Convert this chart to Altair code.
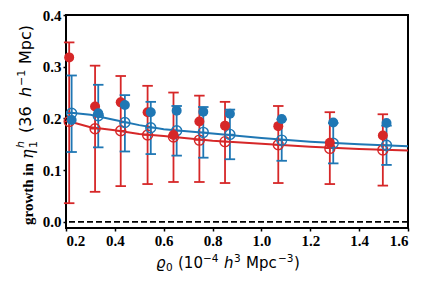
import altair as alt
import pandas as pd

# ---- data ----
red_x = [0.213, 0.319, 0.424, 0.534, 0.640, 0.746, 0.851, 1.069, 1.280, 1.497]
blue_x = [0.223, 0.332, 0.441, 0.547, 0.653, 0.762, 0.871, 1.083, 1.294, 1.512]

red_filled = [0.318, 0.223, 0.231, 0.212, 0.168, 0.194, 0.186, 0.185, 0.153, 0.167]
blue_filled = [0.197, 0.210, 0.226, 0.212, 0.215, 0.213, 0.209, 0.199, 0.192, 0.191]

red_open = [0.194, 0.180, 0.176, 0.168, 0.164, 0.158, 0.155, 0.149, 0.142, 0.139]
blue_open = [0.210, 0.205, 0.192, 0.182, 0.176, 0.173, 0.169, 0.158, 0.152, 0.148]

red_lo = [0.036, 0.058, 0.069, 0.073, 0.077, 0.077, 0.075, 0.075, 0.073, 0.070]
red_hi = [0.347, 0.302, 0.282, 0.263, 0.250, 0.244, 0.232, 0.224, 0.212, 0.208]
blue_lo = [0.135, 0.144, 0.136, 0.131, 0.128, 0.124, 0.121, 0.118, 0.113, 0.110]
blue_hi = [0.283, 0.265, 0.245, 0.232, 0.224, 0.222, 0.217, 0.198, 0.191, 0.186]

line_x = [0.2, 0.3, 0.4, 0.5, 0.6, 0.8, 1.0, 1.2, 1.4, 1.6]
blue_line = [0.212, 0.207, 0.197, 0.187, 0.179, 0.171, 0.162, 0.155, 0.150, 0.146]
red_line = [0.196, 0.183, 0.177, 0.170, 0.166, 0.157, 0.151, 0.145, 0.141, 0.138]

x_ticks = [0.2, 0.4, 0.6, 0.8, 1.0, 1.2, 1.4, 1.6]
y_ticks = [0.0, 0.1, 0.2, 0.3, 0.4]

BLUE = "#1f77b4"
RED = "#d62728"

pts = pd.DataFrame({
    "x": red_x + blue_x,
    "filled": red_filled + blue_filled,
    "open": red_open + blue_open,
    "lo": red_lo + blue_lo,
    "hi": red_hi + blue_hi,
    "s": ["red"] * len(red_x) + ["blue"] * len(blue_x),
})
lines = pd.DataFrame({
    "x": line_x + line_x,
    "y": red_line + blue_line,
    "s": ["red"] * len(line_x) + ["blue"] * len(line_x),
})

xs = alt.Scale(domain=[0.2, 1.6], nice=False, zero=False)
ys = alt.Scale(domain=[-0.012, 0.4], nice=False, zero=False)
col = alt.Color("s:N", scale=alt.Scale(domain=["red", "blue"], range=[RED, BLUE]), legend=None)

xax = alt.Axis(values=x_ticks, format=".1f", title=None)
yax = alt.Axis(values=y_ticks, format=".1f", title=None)

base_x = alt.X("x:Q", scale=xs, axis=xax)

zero = alt.Chart(pd.DataFrame({"z": [0.0]})).mark_rule(
    color="black", strokeDash=[6, 3], strokeWidth=1.8
).encode(y=alt.Y("z:Q", scale=ys, axis=yax))

line_layer = alt.Chart(lines).mark_line(strokeWidth=2).encode(
    x=base_x, y=alt.Y("y:Q", scale=ys, axis=yax), color=col, detail="s:N"
)

def series(name):
    d = pts[pts.s == name]
    c = alt.Chart(d)
    err = c.mark_rule(strokeWidth=1.8).encode(
        x=base_x, y=alt.Y("lo:Q", scale=ys, axis=yax), y2="hi:Q", color=col)
    cap_lo = c.mark_point(shape="stroke", size=110, strokeWidth=1.8, opacity=1).encode(
        x=base_x, y=alt.Y("lo:Q", scale=ys, axis=yax), color=col)
    cap_hi = c.mark_point(shape="stroke", size=110, strokeWidth=1.8, opacity=1).encode(
        x=base_x, y=alt.Y("hi:Q", scale=ys, axis=yax), color=col)
    return err, cap_lo, cap_hi

def opens(name):
    d = pts[pts.s == name]
    return alt.Chart(d).mark_point(
        shape="M-1,0A1,1,0,1,1,1,0A1,1,0,1,1,-1,0Z M-1,0L1,0 M0,-1L0,1",
        size=100, filled=False, strokeWidth=1.4, opacity=1
    ).encode(x=base_x, y=alt.Y("open:Q", scale=ys, axis=yax), color=col)

def fills(name):
    d = pts[pts.s == name]
    return alt.Chart(d).mark_point(
        shape="circle", size=100, filled=True, opacity=1
    ).encode(x=base_x, y=alt.Y("filled:Q", scale=ys, axis=yax), color=col)

r_err = series("red")
b_err = series("blue")

one = pd.DataFrame({"a": [0]})

def txt(text, x, y, font, size, weight="normal", style="normal", angle=270, align="left", baseline="alphabetic"):
    return alt.Chart(one).mark_text(
        text=text, font=font, fontSize=size, fontWeight=weight, fontStyle=style,
        angle=angle, align=align, baseline=baseline, color="black"
    ).encode(x=alt.value(x), y=alt.value(y))

SANS = "DejaVu Sans"
ytitle = [
    txt("growth in", -33, 210, "Liberation Serif", 15, weight="bold"),
    txt("η", -33, 144, "DejaVu Serif", 16, style="italic"),
    txt("h", -42, 133, SANS, 11, style="italic"),
    txt("1", -29, 133, SANS, 11),
    txt("(36", -35, 118, SANS, 16),
    txt("h", -35, 82, SANS, 16, style="italic"),
    txt("−1", -41, 71, SANS, 11),
    txt("Mpc)", -35, 49, SANS, 16),
]
xb = 253
xtitle = [
    txt("ϱ", 90, xb, SANS, 15, style="italic", angle=0),
    txt("0", 100, xb + 3, SANS, 10.5, angle=0),
    txt("(10", 112, xb, SANS, 15, angle=0),
    txt("−4", 137, xb - 6, SANS, 10.5, angle=0),
    txt("h", 158, xb, SANS, 15, style="italic", angle=0),
    txt("3", 168, xb - 6, SANS, 10.5, angle=0),
    txt("Mpc", 180, xb, SANS, 15, angle=0),
    txt("−3", 212, xb - 6, SANS, 10.5, angle=0),
    txt(")", 228, xb, SANS, 15, angle=0),
]

chart = alt.layer(
    zero, line_layer,
    r_err[0], r_err[1], r_err[2],
    b_err[0], b_err[1], b_err[2],
    opens("red"), opens("blue"),
    fills("red"), fills("blue"),
    *ytitle, *xtitle,
).properties(
    width=342, height=213,
    autosize=alt.AutoSizeParams(type="none"),
    padding={"left": 58, "top": 7, "right": 13, "bottom": 50},
).configure_view(
    stroke="black", strokeWidth=2
).configure_axis(
    grid=False, domain=False,
    labelFont="Liberation Serif", labelFontWeight="bold", labelFontSize=15,
    labelColor="black", tickColor="black", tickSize=3, tickWidth=1.5,
    labelPadding=2,
)

chart.save("out.html", embed_options={"renderer": "svg", "actions": False})
